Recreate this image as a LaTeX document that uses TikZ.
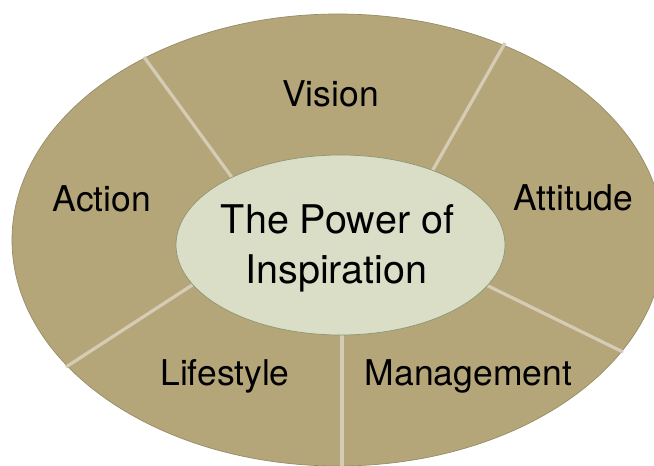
\documentclass[tikz,border=0pt]{standalone}
\usepackage{fontspec}
\setmainfont{TeX Gyre Heros}
\definecolor{ringfill}{RGB}{181,166,122}
\definecolor{ringedge}{RGB}{150,140,100}
\definecolor{corefill}{RGB}{218,222,199}
\definecolor{coreedge}{RGB}{140,150,115}
\definecolor{spokecol}{RGB}{214,204,182}
\tikzset{
  ring/.style={fill=ringfill, draw=ringedge, line width=0.7pt},
  spokeline/.style={draw=spokecol, line width=3.2pt},
  core/.style={ellipse, fill=corefill, draw=coreedge, line width=0.7pt, inner sep=0pt},
  lbl/.style={anchor=base, inner sep=0pt, font=\fontsize{35.5}{42}\selectfont},
  corelbl/.style={anchor=base, inner sep=0pt, font=\fontsize{39.5}{46}\selectfont}
}
\usetikzlibrary{shapes.geometric}
\begin{document}
\begin{tikzpicture}[x=1pt,y=-1pt]
\useasboundingbox (0,0) rectangle (654,466);
\clip (0,0) rectangle (654,466);
\fill[white] (0,0) rectangle (654,466);
\draw[ring] (338,240) ellipse [x radius=326pt, y radius=226pt];
% spoke end points
\coordinate (s1o) at (144,57);
\coordinate (s1i) at (236,183);
\coordinate (s2o) at (505,43);
\coordinate (s2i) at (430,175);
\coordinate (s3o) at (623,352);
\coordinate (s3i) at (480,282);
\coordinate (s4o) at (342,470);
\coordinate (s4i) at (342,325);
\coordinate (s5o) at (66,367);
\coordinate (s5i) at (200,280);
\draw[spokeline] (s1o) -- (s1i);
\draw[spokeline] (s2o) -- (s2i);
\draw[spokeline] (s3o) -- (s3i);
\draw[spokeline] (s4o) -- (s4i);
\draw[spokeline] (s5o) -- (s5i);
\node[core, minimum width=329pt, minimum height=180pt] (hub) at (340.5,245) {};
\node[corelbl] (hub1) at (337.5,233) {The Power of};
\node[corelbl] (hub2) at (336.5,283) {Inspiration};
\node[lbl] (vision) at (330.5,106) {Vision};
\node[lbl] (action) at (102,211) {Action};
\node[lbl] (attitude) at (573.5,210) {Attitude};
\node[lbl] (management) at (468.5,385) {Management};
\node[lbl] (lifestyle) at (225,385) {Lifestyle};
\end{tikzpicture}
\end{document}
